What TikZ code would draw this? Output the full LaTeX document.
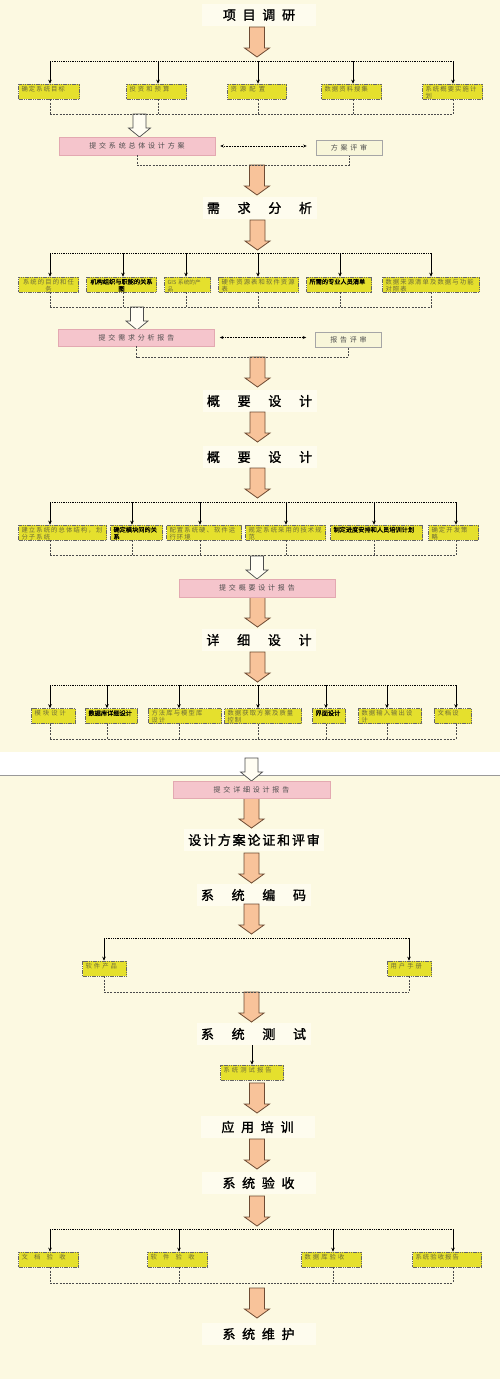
\documentclass[tikz,border=0pt]{standalone}
\usepackage{fontspec}
\setmainfont{Noto Sans CJK SC}
\newfontfamily\boxfont[LetterSpace=18]{Noto Sans CJK SC}
\newfontfamily\boxbold[FakeBold=1]{Noto Sans CJK SC}
\newfontfamily\pinkfont[LetterSpace=40]{Noto Sans CJK SC}
\newfontfamily\ttlfont[FakeBold=1.5]{Noto Sans CJK SC}
\usetikzlibrary{arrows.meta}
\definecolor{bg}{HTML}{FCF9E1}
\definecolor{ttlbg}{HTML}{FEFCEE}
\definecolor{boxy}{HTML}{E5E02D}
\definecolor{boxtxt}{HTML}{6E6C3A}
\definecolor{pinkbox}{HTML}{F5C5CC}
\definecolor{pinkedge}{HTML}{E3A9B1}
\definecolor{revfill}{HTML}{F8F6D9}
\definecolor{peach}{HTML}{F8C39A}
\definecolor{arrowedge}{HTML}{6E4B33}
\definecolor{hollowfill}{HTML}{FFFDF2}
\tikzset{
  bigarrow/.pic={\filldraw[fill=peach,draw=arrowedge,line width=0.8pt]
    (-7.5,0) -- (7.5,0) -- (7.5,21) -- (12.5,21) -- (0,30) -- (-12.5,21) -- (-7.5,21) -- cycle;},
  hollowarrow/.pic={\filldraw[fill=hollowfill,draw=black!70,line width=0.7pt]
    (-6.5,0) -- (6.5,0) -- (6.5,14) -- (11,14) -- (0,23) -- (-11,14) -- (-6.5,14) -- cycle;}
}
\begin{document}
\begin{tikzpicture}[x=1pt,y=-1pt,
  ttl/.style={fill=ttlbg,inner sep=0pt,minimum width=114pt,minimum height=22pt,font=\ttlfont\fontsize{13}{13}\selectfont},
  ybox/.style={draw=black!60,dash pattern=on 1.2pt off 0.6pt,line width=0.6pt,fill=boxy,inner xsep=3pt,inner ysep=0pt,
    text height=7pt,text depth=8pt,align=left,font=\boxfont\fontsize{6.3}{7}\selectfont,text=boxtxt},
  ybold/.style={ybox,font=\boxbold\fontsize{6.2}{7}\selectfont,text=black},
  pbox/.style={fill=pinkbox,draw=pinkedge,line width=0.5pt,minimum width=156pt,minimum height=18pt,inner sep=0pt,
    font=\pinkfont\fontsize{7}{7}\selectfont,text=black!70},
  rbox/.style={fill=revfill,draw=black!35,line width=0.6pt,minimum width=66pt,minimum height=15pt,inner sep=0pt,
    font=\pinkfont\fontsize{7}{7}\selectfont,text=black!70},
  drop/.style={-{Stealth[length=4pt,width=3.5pt]},line width=0.9pt},
  dotline/.style={line width=0.9pt,dash pattern=on 0.9pt off 0.9pt},
  dashline/.style={line width=0.5pt,black!70,dash pattern=on 2pt off 1.2pt},
  dbl/.style={{Stealth[length=3.5pt,width=3pt]}-{Stealth[length=3.5pt,width=3pt]},line width=0.6pt,densely dotted}]

% background
\useasboundingbox (0,0) rectangle (500,1385);
\fill[bg] (0,0) rectangle (500,1385);
\fill[white] (0,752) rectangle (500,775);
\draw[black!40,line width=0.6pt] (0,775) -- (500,775);
\fill[white] (0,1379) rectangle (500,1385);

% stage titles
\node[ttl] (t1) at (259,15) {项\hspace{6.7pt}目\hspace{6.7pt}调\hspace{6.7pt}研};
\node[ttl] (t2) at (259.5,208) {需\hspace{17.7pt}求\hspace{17.7pt}分\hspace{17.7pt}析};
\node[ttl] (t3) at (259.5,401) {概\hspace{17.7pt}要\hspace{17.7pt}设\hspace{17.7pt}计};
\node[ttl] (t4) at (259.5,457) {概\hspace{17.7pt}要\hspace{17.7pt}设\hspace{17.7pt}计};
\node[ttl] (t5) at (259,640) {详\hspace{17.7pt}细\hspace{17.7pt}设\hspace{17.7pt}计};
\node[ttl,minimum width=140pt] (t6) at (254,840) {\addfontfeature{LetterSpace=14}设计方案论证和评审};
\node[ttl] (t7) at (253.5,895) {系\hspace{17.7pt}统\hspace{17.7pt}编\hspace{17.7pt}码};
\node[ttl] (t8) at (253.5,1034) {系\hspace{17.7pt}统\hspace{17.7pt}测\hspace{17.7pt}试};
\node[ttl] (t9) at (257.5,1127) {应\hspace{6.7pt}用\hspace{6.7pt}培\hspace{6.7pt}训};
\node[ttl] (t10) at (258.5,1183) {系\hspace{6.7pt}统\hspace{6.7pt}验\hspace{6.7pt}收};
\node[ttl] (t11) at (258.5,1334) {系\hspace{6.7pt}统\hspace{6.7pt}维\hspace{6.7pt}护};

% big arrows between stages
\pic at (257,27) {bigarrow};
\pic at (257,165) {bigarrow};
\pic at (257.5,220) {bigarrow};
\pic at (257.5,357) {bigarrow};
\pic at (257.5,412) {bigarrow};
\pic at (257.5,468) {bigarrow};
\pic at (257.5,597) {bigarrow};
\pic at (257.5,652) {bigarrow};
\pic at (251.5,798) {bigarrow};
\pic at (251.5,853) {bigarrow};
\pic at (251.5,904) {bigarrow};
\pic at (251.5,992) {bigarrow};
\pic at (257,1083) {bigarrow};
\pic at (257,1139) {bigarrow};
\pic at (257,1196) {bigarrow};
\pic at (257,1288) {bigarrow};

% hollow arrows to the reports
\pic at (139.5,114) {hollowarrow};
\pic at (137,307) {hollowarrow};
\pic at (257,556) {hollowarrow};
\pic at (251.5,758) {hollowarrow};

% project research
\node[ybox,text width=55pt] (b11) at (49,91.5) {确定系统目标};
\node[ybox,text width=54pt] (b12) at (156.5,91.5) {投 资 和 预 算};
\node[ybox,text width=53pt] (b13) at (257,91.5) {资\enspace 源\enspace 配\enspace 置};
\node[ybox,text width=54pt] (b14) at (351.5,91.5) {数据资料搜集};
\node[ybox,text width=54pt] (b15) at (452.5,91.5) {系统概要实施计\\划};
\foreach \n/\x in {11/50,12/158,13/258,14/353,15/453}{
  \coordinate (d\n) at (\x,61);
  \draw[drop] (d\n) -- (d\n |- b\n.north);
  \draw[dashline] (d\n |- b\n.south) -- (\x,114);
}
\draw[dotline] (d11) -- (d15);
\draw[dashline] (d11 |- 0,114) -- (d15 |- 0,114);

\node[pbox] (p1) at (137,146) {提交系统总体设计方案};
\node[rbox] (r1) at (349,148) {方案评审};
\draw[dbl,shorten <=5pt,shorten >=9pt] (p1.east) -- (p1.east -| r1.west);
\draw[dashline] (p1.south) -- ++(0,10) -| (r1.south);

% requirement analysis
\node[ybox,text width=54pt,align=center] (b21) at (48.5,284.5) {系统的目的和任\\务};
\node[ybold,text width=64pt,align=center] (b22) at (121.5,284.5) {机构组织与职能的关系\\图};
\node[ybox,text width=40pt,font=\fontsize{5.6}{7}\selectfont] (b23) at (187.5,284.5) {GIS 系统的产\\品};
\node[ybox,text width=74pt] (b24) at (258.5,284.5) {硬件资源表和软件资源\\表};
\node[ybold,text width=59pt] (b25) at (339,284.5) {所需的专业人员清单};
\node[ybox,text width=91pt] (b26) at (431,284.5) {数据来源清单及数据与功能\\对照表};
\foreach \n/\x in {21/50,22/123,23/186,24/258,25/340,26/431}{
  \coordinate (d\n) at (\x,253);
  \draw[drop] (d\n) -- (d\n |- b\n.north);
  \draw[dashline] (d\n |- b\n.south) -- (\x,307);
}
\draw[dotline] (d21) -- (d26);
\draw[dashline] (d21 |- 0,307) -- (d26 |- 0,307);

\node[pbox,minimum height=17pt] (p2) at (136.5,337.5) {提交需求分析报告};
\node[rbox] (r2) at (348.5,339.5) {报告评审};
\draw[dbl,shorten <=5pt,shorten >=9pt] (p2.east) -- (p2.east -| r2.west);
\draw[dashline] (p2.south) -- ++(0,11) -| (r2.south);

% outline design
\node[ybox,text width=82pt] (b31) at (62.5,532.5) {建立系统的总体结构，划\\分子系统};
\node[ybold,text width=46pt] (b32) at (136.5,532.5) {确定模块间的关\\系};
\node[ybox,text width=69pt] (b33) at (204,532.5) {配置系统硬、软件运\\行环境};
\node[ybox,text width=74pt] (b34) at (285.5,532.5) {规定系统采用的技术规\\范};
\node[ybold,text width=86pt] (b35) at (376.5,532.5) {制定进度安排和人员培训计划};
\node[ybox,text width=44pt] (b36) at (453.5,532.5) {确定开发策\\略};
\foreach \n/\x in {31/50,32/132,33/200,34/286,35/374,36/456}{
  \coordinate (d\n) at (\x,502);
  \draw[drop] (d\n) -- (d\n |- b\n.north);
  \draw[dashline] (d\n |- b\n.south) -- (\x,555);
}
\draw[dotline] (d31) -- (d36);
\draw[dashline] (d31 |- 0,555) -- (d36 |- 0,555);

\node[pbox] (p3) at (257,588) {提交概要设计报告};

% detailed design
\node[ybox,text width=38pt] (b41) at (53.5,716) {模 块 设 计};
\node[ybold,text width=46pt] (b42) at (111.5,716) {数据库详细设计};
\node[ybox,text width=67pt] (b43) at (185,716) {方法库与模型库\\设计};
\node[ybox,text width=71pt] (b44) at (263,716) {数据获取方案及质量\\控制};
\node[ybold,text width=27pt] (b45) at (329,716) {界面设计};
\node[ybox,text width=57pt] (b46) at (390,716) {数据输入输出设\\计};
\node[ybox,text width=31pt] (b47) at (453,716) {文档设};
\foreach \n/\x in {41/50,42/107,43/179,44/258,45/326,46/387,47/456}{
  \coordinate (d\n) at (\x,685);
  \draw[drop] (d\n) -- (d\n |- b\n.north);
  \draw[dashline] (d\n |- b\n.south) -- (\x,739);
}
\draw[dotline] (d41) -- (d47);
\draw[dashline] (d41 |- 0,739) -- (d47 |- 0,739);

\node[pbox,minimum width=157pt,minimum height=17pt] (p4) at (251.5,789.5) {提交详细设计报告};

% coding
\node[ybox,text width=38pt] (b51) at (104.5,968.5) {软 件 产 品};
\node[ybox,text width=38pt] (b52) at (409.5,968.5) {用 户 手 册};
\foreach \n/\x in {51/104,52/409}{
  \coordinate (d\n) at (\x,938);
  \draw[drop] (d\n) -- (d\n |- b\n.north);
  \draw[dashline] (d\n |- b\n.south) -- (\x,992);
}
\draw[dotline] (d51) -- (d52);
\draw[dashline] (d51 |- 0,992) -- (d52 |- 0,992);

% testing
\node[ybox,text width=57pt] (b61) at (252,1072.5) {系 统 测 试 报 告};
\draw[drop] (b61.north |- t8.south) -- (b61.north);

% acceptance
\node[ybox,text width=54pt] (b71) at (48.5,1259.5) {文\quad 档\quad 验\quad 收};
\node[ybox,text width=54pt] (b72) at (177.5,1259.5) {软\quad 件\quad 验\quad 收};
\node[ybox,text width=54pt] (b73) at (331.5,1259.5) {数 据 库 验 收};
\node[ybox,text width=63pt] (b74) at (447,1259.5) {系统验收报告};
\foreach \n/\x in {71/50,72/179,73/333,74/453}{
  \coordinate (d\n) at (\x,1229);
  \draw[drop] (d\n) -- (d\n |- b\n.north);
  \draw[dashline] (d\n |- b\n.south) -- (\x,1283);
}
\draw[dotline] (d71) -- (d74);
\draw[dashline] (d71 |- 0,1283) -- (d74 |- 0,1283);
\end{tikzpicture}
\end{document}
